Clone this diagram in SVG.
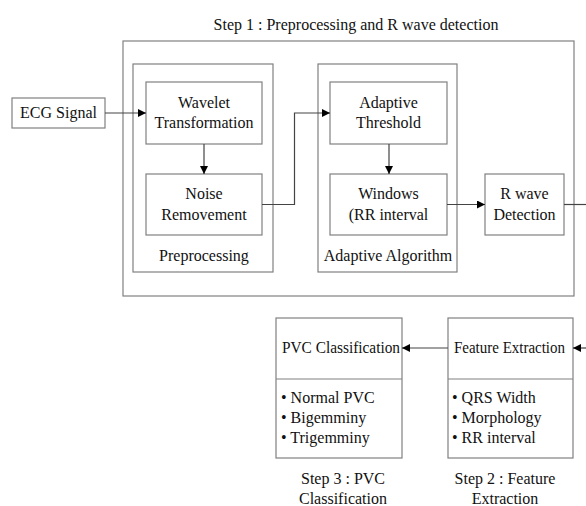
<svg xmlns="http://www.w3.org/2000/svg" width="586" height="506" viewBox="0 0 586 506">
<defs>
<marker id="ah" viewBox="0 0 10 10" refX="10" refY="5" markerWidth="8" markerHeight="8" markerUnits="userSpaceOnUse" orient="auto">
<path d="M0,0 L10,5 L0,10 z" fill="#000"/>
</marker>
<style>
.box{fill:#fff;stroke:#808080;stroke-width:1.2}
.grp{fill:none;stroke:#808080;stroke-width:1.2}
.t{font-family:"Liberation Serif","Times New Roman",serif;font-size:16px;fill:#111}
.c{text-anchor:middle}
.ln{fill:none;stroke:#444;stroke-width:1.2}
</style>
</defs>
<rect width="586" height="506" fill="#fff"/>
<g id="step1">
<text class="t c" x="356" y="30">Step 1 : Preprocessing and R wave detection</text>
<rect class="grp" x="123" y="41" width="451" height="255"/>
</g>
<g id="preprocessing">
<rect class="grp" x="133" y="64" width="140" height="208"/>
<text class="t c" x="204" y="261">Preprocessing</text>
</g>
<g id="adaptive-algorithm">
<rect class="grp" x="318" y="64" width="139" height="208"/>
<text class="t c" x="388" y="261">Adaptive Algorithm</text>
</g>
<g id="ecg">
<rect class="box" x="12" y="98" width="93" height="30"/>
<text class="t c" x="58.5" y="118">ECG Signal</text>
</g>
<g id="wavelet">
<rect class="box" x="146" y="82" width="116" height="62"/>
<text class="t c" x="204" y="108">Wavelet</text>
<text class="t c" x="204" y="128">Transformation</text>
</g>
<g id="noise">
<rect class="box" x="146" y="174" width="116" height="61"/>
<text class="t c" x="204" y="199">Noise</text>
<text class="t c" x="204" y="220">Removement</text>
</g>
<g id="threshold">
<rect class="box" x="330" y="82" width="117" height="62"/>
<text class="t c" x="388.5" y="108">Adaptive</text>
<text class="t c" x="388.5" y="128">Threshold</text>
</g>
<g id="windows">
<rect class="box" x="330" y="174" width="117" height="61"/>
<text class="t c" x="388.5" y="199">Windows</text>
<text class="t c" x="388.5" y="220">(RR interval</text>
</g>
<g id="rwave">
<rect class="box" x="485" y="174" width="79" height="61"/>
<text class="t c" x="524.5" y="199">R wave</text>
<text class="t c" x="524.5" y="220">Detection</text>
</g>
<g id="pvc">
<rect class="box" x="276" y="318" width="126" height="140"/>
<line class="grp" x1="276" y1="379" x2="402" y2="379"/>
<text class="t" x="282" y="353" textLength="118" lengthAdjust="spacingAndGlyphs">PVC Classification</text>
<text class="t" x="281" y="403">• Normal PVC</text>
<text class="t" x="281" y="423">• Bigemminy</text>
<text class="t" x="281" y="443">• Trigemminy</text>
<text class="t c" x="343" y="484">Step 3 : PVC</text>
<text class="t c" x="343" y="504">Classification</text>
</g>
<g id="feature">
<rect class="box" x="448" y="318" width="125" height="140"/>
<line class="grp" x1="448" y1="379" x2="573" y2="379"/>
<text class="t" x="454" y="353" textLength="111" lengthAdjust="spacingAndGlyphs">Feature Extraction</text>
<text class="t" x="452" y="403">• QRS Width</text>
<text class="t" x="452" y="423">• Morphology</text>
<text class="t" x="452" y="443">• RR interval</text>
<text class="t c" x="505" y="484">Step 2 : Feature</text>
<text class="t c" x="505" y="504">Extraction</text>
</g>
<g id="connectors">
<line class="ln" x1="105" y1="113" x2="146" y2="113" marker-end="url(#ah)"/>
<line class="ln" x1="204" y1="144" x2="204" y2="174" marker-end="url(#ah)"/>
<polyline class="ln" points="262,204.5 294.5,204.5 294.5,113 330,113" marker-end="url(#ah)"/>
<line class="ln" x1="389" y1="144" x2="389" y2="174" marker-end="url(#ah)"/>
<line class="ln" x1="447" y1="204.5" x2="485" y2="204.5" marker-end="url(#ah)"/>
<line class="ln" x1="564" y1="204.5" x2="586" y2="204.5"/>
<line class="ln" x1="586" y1="348" x2="573" y2="348" marker-end="url(#ah)"/>
<line class="ln" x1="448" y1="348" x2="402" y2="348" marker-end="url(#ah)"/>
</g>
</svg>
